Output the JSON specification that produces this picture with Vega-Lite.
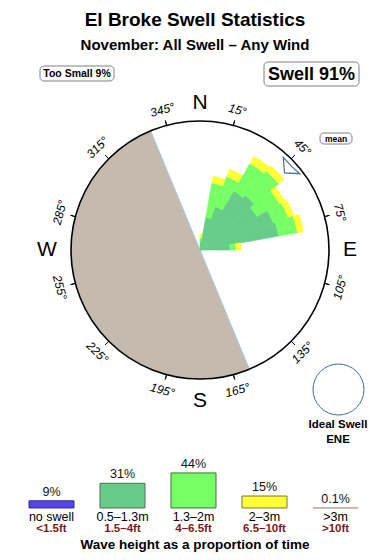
{
  "$schema": "https://vega.github.io/schema/vega-lite/v6.json",
  "padding": 0,
  "spacing": 0,
  "bounds": "flush",
  "background": "white",
  "config": {"view": {"stroke": null}, "font": "Liberation Sans"},
  "resolve": {"scale": {"color": "independent", "stroke": "independent"}},
  "datasets": {
    "rose": [
      {"a0": 0, "a1": 10, "band": "dark", "r0": 0, "r1": 8},
      {"a0": 0, "a1": 10, "band": "light", "r0": 8, "r1": 12},
      {"a0": 0, "a1": 10, "band": "yellow", "r0": 12, "r1": 16},
      {"a0": 10, "a1": 20, "band": "dark", "r0": 0, "r1": 33},
      {"a0": 10, "a1": 20, "band": "light", "r0": 33, "r1": 68},
      {"a0": 10, "a1": 20, "band": "yellow", "r0": 68, "r1": 75},
      {"a0": 20, "a1": 30, "band": "dark", "r0": 0, "r1": 46},
      {"a0": 20, "a1": 30, "band": "light", "r0": 46, "r1": 78},
      {"a0": 20, "a1": 30, "band": "yellow", "r0": 78, "r1": 86},
      {"a0": 30, "a1": 40, "band": "dark", "r0": 0, "r1": 68},
      {"a0": 30, "a1": 40, "band": "light", "r0": 68, "r1": 100},
      {"a0": 30, "a1": 40, "band": "yellow", "r0": 100, "r1": 108},
      {"a0": 40, "a1": 50, "band": "dark", "r0": 0, "r1": 71},
      {"a0": 40, "a1": 50, "band": "light", "r0": 71, "r1": 103},
      {"a0": 40, "a1": 50, "band": "yellow", "r0": 103, "r1": 110},
      {"a0": 50, "a1": 60, "band": "dark", "r0": 0, "r1": 66},
      {"a0": 50, "a1": 60, "band": "light", "r0": 66, "r1": 92},
      {"a0": 50, "a1": 60, "band": "yellow", "r0": 92, "r1": 98},
      {"a0": 60, "a1": 70, "band": "dark", "r0": 0, "r1": 78},
      {"a0": 60, "a1": 70, "band": "light", "r0": 78, "r1": 94},
      {"a0": 60, "a1": 70, "band": "yellow", "r0": 94, "r1": 100},
      {"a0": 70, "a1": 80, "band": "dark", "r0": 0, "r1": 80},
      {"a0": 70, "a1": 80, "band": "light", "r0": 80, "r1": 99},
      {"a0": 70, "a1": 80, "band": "yellow", "r0": 99, "r1": 105},
      {"a0": 80, "a1": 90, "band": "dark", "r0": 0, "r1": 30},
      {"a0": 80, "a1": 90, "band": "light", "r0": 30, "r1": 36},
      {"a0": 80, "a1": 90, "band": "yellow", "r0": 36, "r1": 41}
    ],
    "ticks": [{"b": 15}, {"b": 45}, {"b": 75}, {"b": 105}, {"b": 135}, {"b": 165}, {"b": 195}, {"b": 225}, {"b": 255}, {"b": 285}, {"b": 315}, {"b": 345}],
    "ticklabels": [
      {"b": 15, "t": "15°"}, {"b": 45, "t": "45°"}, {"b": 75, "t": "75°"}, {"b": 105, "t": "105°"},
      {"b": 135, "t": "135°"}, {"b": 165, "t": "165°"}, {"b": 195, "t": "195°"}, {"b": 225, "t": "225°"},
      {"b": 255, "t": "255°"}, {"b": 285, "t": "285°"}, {"b": 315, "t": "315°"}, {"b": 345, "t": "345°"}
    ],
    "cardinal": [
      {"b": 0, "r": 147, "t": "N"}, {"b": 90, "r": 150, "t": "E"},
      {"b": 180, "r": 151, "t": "S"}, {"b": 270, "r": 153, "t": "W"}
    ],
    "legend": [
      {"cat": "no swell", "ft": "<1.5ft", "pct": 9, "label": "9%"},
      {"cat": "0.5–1.3m", "ft": "1.5–4ft", "pct": 31, "label": "31%"},
      {"cat": "1.3–2m", "ft": "4–6.5ft", "pct": 44, "label": "44%"},
      {"cat": "2–3m", "ft": "6.5–10ft", "pct": 15, "label": "15%"},
      {"cat": ">3m", "ft": ">10ft", "pct": 0.1, "label": "0.1%"}
    ]
  },
  "vconcat": [
    {
      "width": 390,
      "height": 470,
      "layer": [
        {
          "data": {"values": [{"a0": 157.5, "a1": 337.5, "r": 129}]},
          "mark": {"type": "arc", "fill": "#C4BAAE", "stroke": "#A9C8E4", "strokeWidth": 1},
          "encoding": {
            "x": {"datum": 0, "type": "quantitative", "scale": {"domain": [-200, 190], "nice": false, "zero": false}, "axis": null},
            "y": {"datum": 0, "type": "quantitative", "scale": {"domain": [-220, 250], "nice": false, "zero": false}, "axis": null},
            "theta": {"field": "a0", "type": "quantitative", "scale": {"type": "linear", "domain": [0, 360], "range": [0, 6.283185307179586], "nice": false, "zero": false}, "stack": null},
            "theta2": {"field": "a1"},
            "radius": {"field": "r", "type": "quantitative", "scale": {"type": "linear", "domain": [0, 150], "range": [0, 150], "nice": false, "zero": true}},
            "radius2": {"datum": 0}
          }
        },
        {
          "data": {"name": "rose"},
          "mark": {"type": "arc", "strokeWidth": 0.6},
          "encoding": {
            "x": {"datum": 0, "type": "quantitative", "scale": {"domain": [-200, 190], "nice": false, "zero": false}, "axis": null},
            "y": {"datum": 0, "type": "quantitative", "scale": {"domain": [-220, 250], "nice": false, "zero": false}, "axis": null},
            "theta": {"field": "a0", "type": "quantitative", "scale": {"type": "linear", "domain": [0, 360], "range": [0, 6.283185307179586], "nice": false, "zero": false}, "stack": null},
            "theta2": {"field": "a1"},
            "radius": {"field": "r1", "type": "quantitative", "scale": {"type": "linear", "domain": [0, 150], "range": [0, 150], "nice": false, "zero": true}},
            "radius2": {"field": "r0"},
            "color": {"field": "band", "type": "nominal", "scale": {"domain": ["dark", "light", "yellow"], "range": ["#66CC88", "#77FF66", "#FFFF33"]}, "legend": null},
            "stroke": {"field": "band", "type": "nominal", "scale": {"domain": ["dark", "light", "yellow"], "range": ["#66CC88", "#77FF66", "#FFFF33"]}, "legend": null}
          }
        },
        {
          "data": {"values": [{"a0": 0, "a1": 360, "r": 129}]},
          "mark": {"type": "arc", "fillOpacity": 0, "stroke": "#000000", "strokeWidth": 1.6},
          "encoding": {
            "x": {"datum": 0, "type": "quantitative", "scale": {"domain": [-200, 190], "nice": false, "zero": false}, "axis": null},
            "y": {"datum": 0, "type": "quantitative", "scale": {"domain": [-220, 250], "nice": false, "zero": false}, "axis": null},
            "theta": {"field": "a0", "type": "quantitative", "scale": {"type": "linear", "domain": [0, 360], "range": [0, 6.283185307179586], "nice": false, "zero": false}, "stack": null},
            "theta2": {"field": "a1"},
            "radius": {"field": "r", "type": "quantitative", "scale": {"type": "linear", "domain": [0, 150], "range": [0, 150], "nice": false, "zero": true}},
            "radius2": {"datum": 0}
          }
        },
        {
          "data": {"name": "ticks"},
          "mark": {"type": "arc", "fillOpacity": 0, "stroke": "#000000", "strokeWidth": 1},
          "encoding": {
            "x": {"datum": 0, "type": "quantitative", "scale": {"domain": [-200, 190], "nice": false, "zero": false}, "axis": null},
            "y": {"datum": 0, "type": "quantitative", "scale": {"domain": [-220, 250], "nice": false, "zero": false}, "axis": null},
            "theta": {"field": "b", "type": "quantitative", "scale": {"type": "linear", "domain": [0, 360], "range": [0, 6.283185307179586], "nice": false, "zero": false}, "stack": null},
            "theta2": {"field": "b"},
            "radius": {"datum": 134, "type": "quantitative", "scale": {"type": "linear", "domain": [0, 150], "range": [0, 150], "nice": false, "zero": true}},
            "radius2": {"datum": 129}
          }
        },
        {
          "data": {"values": [{"x": 91.5, "y": 84.5}]},
          "mark": {"type": "point", "shape": "M-1,-1 L-0.85,0.9 L1,1 L-0.05,0.05 Z", "size": 270, "filled": true, "fill": "#FFFFFF", "stroke": "#4F6F8F", "strokeWidth": 1.2, "opacity": 1},
          "encoding": {
            "x": {"field": "x", "type": "quantitative", "scale": {"domain": [-200, 190], "nice": false, "zero": false}, "axis": null},
            "y": {"field": "y", "type": "quantitative", "scale": {"domain": [-220, 250], "nice": false, "zero": false}, "axis": null}
          }
        },
        {
          "data": {"name": "ticklabels"},
          "mark": {"type": "text", "fontSize": 12, "fontStyle": "italic", "align": "center", "baseline": "middle", "color": "#000000"},
          "encoding": {
            "x": {"datum": 0, "type": "quantitative", "scale": {"domain": [-200, 190], "nice": false, "zero": false}, "axis": null},
            "y": {"datum": 0, "type": "quantitative", "scale": {"domain": [-220, 250], "nice": false, "zero": false}, "axis": null},
            "theta": {"field": "b", "type": "quantitative", "scale": {"type": "linear", "domain": [0, 360], "range": [0, 6.283185307179586], "nice": false, "zero": false}, "stack": null},
            "radius": {"datum": 145, "type": "quantitative", "scale": {"type": "linear", "domain": [0, 150], "range": [0, 150], "nice": false, "zero": true}},
            "angle": {"field": "b", "type": "quantitative", "scale": {"domain": [0, 90, 90.01, 270, 270.01, 360], "range": [0, 90, -90, 90, -90, 0]}, "legend": null},
            "text": {"field": "t"}
          }
        },
        {
          "data": {"name": "cardinal"},
          "mark": {"type": "text", "fontSize": 21, "align": "center", "baseline": "middle", "color": "#000000"},
          "encoding": {
            "x": {"datum": 0, "type": "quantitative", "scale": {"domain": [-200, 190], "nice": false, "zero": false}, "axis": null},
            "y": {"datum": 0, "type": "quantitative", "scale": {"domain": [-220, 250], "nice": false, "zero": false}, "axis": null},
            "theta": {"field": "b", "type": "quantitative", "scale": {"type": "linear", "domain": [0, 360], "range": [0, 6.283185307179586], "nice": false, "zero": false}, "stack": null},
            "radius": {"field": "r", "type": "quantitative", "scale": {"type": "linear", "domain": [0, 150], "range": [0, 150], "nice": false, "zero": true}},
            "text": {"field": "t"}
          }
        },
        {
          "data": {"values": [
            {"x0": -160, "x1": -86, "y0": 184, "y1": 169},
            {"x0": 64, "x1": 159, "y0": 188, "y1": 164},
            {"x0": 120, "x1": 152, "y0": 117, "y1": 106}
          ]},
          "mark": {"type": "rect", "fill": "#FFFFFF", "stroke": "#808080", "strokeWidth": 1, "cornerRadius": 4},
          "encoding": {
            "x": {"field": "x0", "type": "quantitative", "scale": {"domain": [-200, 190], "nice": false, "zero": false}, "axis": null},
            "x2": {"field": "x1"},
            "y": {"field": "y0", "type": "quantitative", "scale": {"domain": [-220, 250], "nice": false, "zero": false}, "axis": null},
            "y2": {"field": "y1"}
          }
        },
        {
          "data": {"values": [{"x": -5, "y": 224, "t": "El Broke Swell Statistics"}]},
          "mark": {"type": "text", "fontSize": 19, "fontWeight": "bold", "align": "center", "baseline": "alphabetic", "color": "#000000"},
          "encoding": {
            "x": {"field": "x", "type": "quantitative", "scale": {"domain": [-200, 190], "nice": false, "zero": false}, "axis": null},
            "y": {"field": "y", "type": "quantitative", "scale": {"domain": [-220, 250], "nice": false, "zero": false}, "axis": null},
            "text": {"field": "t"}
          }
        },
        {
          "data": {"values": [{"x": -5, "y": 200, "t": "November: All Swell – Any Wind"}]},
          "mark": {"type": "text", "fontSize": 15, "fontWeight": "bold", "align": "center", "baseline": "alphabetic", "color": "#000000"},
          "encoding": {
            "x": {"field": "x", "type": "quantitative", "scale": {"domain": [-200, 190], "nice": false, "zero": false}, "axis": null},
            "y": {"field": "y", "type": "quantitative", "scale": {"domain": [-220, 250], "nice": false, "zero": false}, "axis": null},
            "text": {"field": "t"}
          }
        },
        {
          "data": {"values": [{"x": -123, "y": 176, "t": "Too Small 9%"}]},
          "mark": {"type": "text", "fontSize": 10.5, "fontWeight": "bold", "align": "center", "baseline": "middle", "color": "#000000"},
          "encoding": {
            "x": {"field": "x", "type": "quantitative", "scale": {"domain": [-200, 190], "nice": false, "zero": false}, "axis": null},
            "y": {"field": "y", "type": "quantitative", "scale": {"domain": [-220, 250], "nice": false, "zero": false}, "axis": null},
            "text": {"field": "t"}
          }
        },
        {
          "data": {"values": [{"x": 111.5, "y": 175.5, "t": "Swell 91%"}]},
          "mark": {"type": "text", "fontSize": 18, "fontWeight": "bold", "align": "center", "baseline": "middle", "color": "#000000"},
          "encoding": {
            "x": {"field": "x", "type": "quantitative", "scale": {"domain": [-200, 190], "nice": false, "zero": false}, "axis": null},
            "y": {"field": "y", "type": "quantitative", "scale": {"domain": [-220, 250], "nice": false, "zero": false}, "axis": null},
            "text": {"field": "t"}
          }
        },
        {
          "data": {"values": [{"x": 136, "y": 111.5, "t": "mean"}]},
          "mark": {"type": "text", "fontSize": 8.5, "fontWeight": "bold", "align": "center", "baseline": "middle", "color": "#000000"},
          "encoding": {
            "x": {"field": "x", "type": "quantitative", "scale": {"domain": [-200, 190], "nice": false, "zero": false}, "axis": null},
            "y": {"field": "y", "type": "quantitative", "scale": {"domain": [-220, 250], "nice": false, "zero": false}, "axis": null},
            "text": {"field": "t"}
          }
        },
        {
          "data": {"values": [{"x": 138.5, "y": -139.5, "a0": 0, "a1": 360, "r": 25.5}]},
          "mark": {"type": "arc", "fill": "#FFFFFF", "stroke": "#3F6A96", "strokeWidth": 1},
          "encoding": {
            "x": {"field": "x", "type": "quantitative", "scale": {"domain": [-200, 190], "nice": false, "zero": false}, "axis": null},
            "y": {"field": "y", "type": "quantitative", "scale": {"domain": [-220, 250], "nice": false, "zero": false}, "axis": null},
            "theta": {"field": "a0", "type": "quantitative", "scale": {"type": "linear", "domain": [0, 360], "range": [0, 6.283185307179586], "nice": false, "zero": false}, "stack": null},
            "theta2": {"field": "a1"},
            "radius": {"field": "r", "type": "quantitative", "scale": {"type": "linear", "domain": [0, 150], "range": [0, 150], "nice": false, "zero": true}},
            "radius2": {"datum": 0}
          }
        },
        {
          "data": {"values": [{"x": 138, "y": -175, "t": "Ideal Swell"}, {"x": 138, "y": -190, "t": "ENE"}]},
          "mark": {"type": "text", "fontSize": 11.5, "fontWeight": "bold", "align": "center", "baseline": "middle", "color": "#000000"},
          "encoding": {
            "x": {"field": "x", "type": "quantitative", "scale": {"domain": [-200, 190], "nice": false, "zero": false}, "axis": null},
            "y": {"field": "y", "type": "quantitative", "scale": {"domain": [-220, 250], "nice": false, "zero": false}, "axis": null},
            "text": {"field": "t"}
          }
        }
      ]
    },
    {
      "width": 390,
      "height": 90,
      "data": {"name": "legend"},
      "layer": [
        {
          "mark": {"type": "bar", "strokeWidth": 1},
          "encoding": {
            "x": {"field": "cat", "type": "nominal", "sort": null, "scale": {"domain": ["no swell", "0.5–1.3m", "1.3–2m", "2–3m", ">3m"], "range": [16, 371], "paddingInner": 0.366, "paddingOuter": 0.183}, "axis": null},
            "y": {"field": "pct", "type": "quantitative", "scale": {"domain": [-65.4, 47.7], "nice": false, "zero": false}, "axis": null},
            "y2": {"datum": 0},
            "color": {"field": "cat", "type": "nominal", "scale": {"domain": ["no swell", "0.5–1.3m", "1.3–2m", "2–3m", ">3m"], "range": ["#5544EE", "#66CC88", "#77FF66", "#FFFF33", "#B0A598"]}, "legend": null},
            "stroke": {"field": "cat", "type": "nominal", "scale": {"domain": ["no swell", "0.5–1.3m", "1.3–2m", "2–3m", ">3m"], "range": ["#33338A", "#4F6F5A", "#3F6F3A", "#777740", "#B0A598"]}, "legend": null}
          }
        },
        {
          "mark": {"type": "text", "baseline": "bottom", "dy": -2, "fontSize": 12.5, "color": "#111111"},
          "encoding": {
            "x": {"field": "cat", "type": "nominal", "sort": null, "scale": {"domain": ["no swell", "0.5–1.3m", "1.3–2m", "2–3m", ">3m"], "range": [16, 371], "paddingInner": 0.366, "paddingOuter": 0.183}, "axis": null},
            "y": {"field": "pct", "type": "quantitative", "scale": {"domain": [-65.4, 47.7], "nice": false, "zero": false}, "axis": null},
            "text": {"field": "label"}
          }
        },
        {
          "mark": {"type": "text", "baseline": "middle", "dy": 9, "fontSize": 12.5, "color": "#000000"},
          "encoding": {
            "x": {"field": "cat", "type": "nominal", "sort": null, "scale": {"domain": ["no swell", "0.5–1.3m", "1.3–2m", "2–3m", ">3m"], "range": [16, 371], "paddingInner": 0.366, "paddingOuter": 0.183}, "axis": null},
            "y": {"datum": 0, "type": "quantitative", "scale": {"domain": [-65.4, 47.7], "nice": false, "zero": false}, "axis": null},
            "text": {"field": "cat"}
          }
        },
        {
          "mark": {"type": "text", "baseline": "middle", "dy": 21.5, "fontSize": 11.5, "fontWeight": "bold", "color": "#7A1A1A"},
          "encoding": {
            "x": {"field": "cat", "type": "nominal", "sort": null, "scale": {"domain": ["no swell", "0.5–1.3m", "1.3–2m", "2–3m", ">3m"], "range": [16, 371], "paddingInner": 0.366, "paddingOuter": 0.183}, "axis": null},
            "y": {"datum": 0, "type": "quantitative", "scale": {"domain": [-65.4, 47.7], "nice": false, "zero": false}, "axis": null},
            "text": {"field": "ft"}
          }
        },
        {
          "data": {"values": [{"t": "Wave height as a proportion of time"}]},
          "mark": {"type": "text", "baseline": "middle", "dy": 37.5, "dx": 1.5, "fontSize": 13.5, "fontWeight": "bold", "color": "#000000"},
          "encoding": {
            "x": {"datum": "1.3–2m", "type": "nominal", "scale": {"domain": ["no swell", "0.5–1.3m", "1.3–2m", "2–3m", ">3m"], "range": [16, 371], "paddingInner": 0.366, "paddingOuter": 0.183}, "axis": null},
            "y": {"datum": 0, "type": "quantitative", "scale": {"domain": [-65.4, 47.7], "nice": false, "zero": false}, "axis": null},
            "text": {"field": "t"}
          }
        }
      ]
    }
  ]
}
